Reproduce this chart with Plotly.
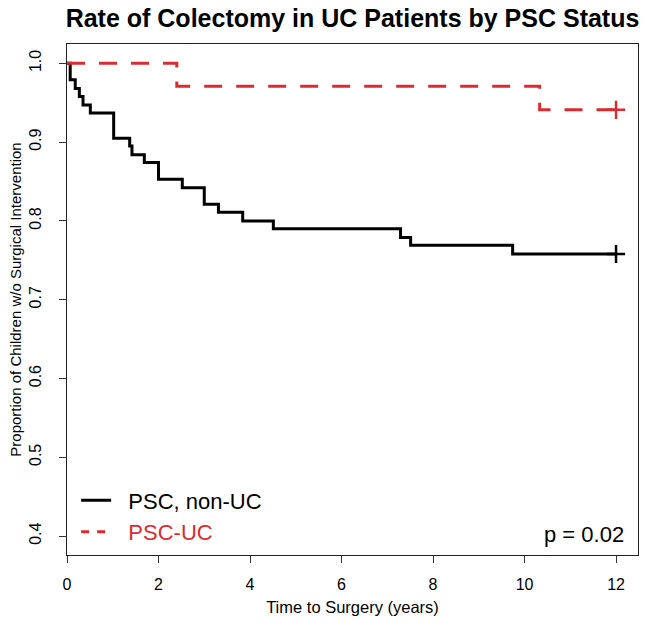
import plotly.graph_objects as go

# Kaplan-Meier estimates
psc_nonuc_time = [0, 0.07, 0.18, 0.27, 0.35, 0.51, 1.02, 1.37, 1.42, 1.69, 2.0,
                  2.52, 3.0, 3.31, 3.84, 4.51, 7.29, 7.51, 9.74, 12.0]
psc_nonuc_surv = [1.0, 0.979, 0.968, 0.958, 0.947, 0.937, 0.905, 0.895, 0.884,
                  0.874, 0.853, 0.842, 0.821, 0.811, 0.800, 0.790, 0.779, 0.769,
                  0.758, 0.758]

pscuc_time = [0, 2.40, 10.33, 12.0]
pscuc_surv = [1.0, 0.971, 0.941, 0.941]

# censoring marks at the end of follow-up
censor_time = [12.0]
nonuc_censor = [0.758]
uc_censor = [0.941]

x_ticks = [0, 2, 4, 6, 8, 10, 12]
y_ticks = [0.4, 0.5, 0.6, 0.7, 0.8, 0.9, 1.0]

RED = "#D92B30"
FONT = "Liberation Sans, Arial, sans-serif"
SP = "\u00a0\u00a0"

fig = go.Figure()

fig.add_trace(go.Scatter(x=psc_nonuc_time, y=psc_nonuc_surv, mode="lines",
                         line=dict(color="black", width=3, shape="hv"),
                         showlegend=False, hoverinfo="skip"))
fig.add_trace(go.Scatter(x=pscuc_time, y=pscuc_surv, mode="lines",
                         line=dict(color=RED, width=3, shape="hv", dash="18px,14px"),
                         showlegend=False, hoverinfo="skip"))
fig.add_trace(go.Scatter(x=censor_time, y=nonuc_censor, mode="markers",
                         marker=dict(symbol="cross-thin", size=13,
                                     line=dict(color="black", width=2.5)),
                         showlegend=False))
fig.add_trace(go.Scatter(x=censor_time, y=uc_censor, mode="markers",
                         marker=dict(symbol="cross-thin", size=13,
                                     line=dict(color=RED, width=2.5)),
                         showlegend=False))

# legend entries
fig.add_trace(go.Scatter(x=[None], y=[None], mode="lines",
                         line=dict(color="black", width=3),
                         name=SP + "PSC, non-UC", legendgroup="a"))
fig.add_trace(go.Scatter(x=[None], y=[None], mode="lines",
                         line=dict(color=RED, width=3, dash="8px,8px"),
                         name=SP + f"<span style='color:{RED}'>PSC-UC</span>", legendgroup="b"))

fig.add_annotation(text="p = 0.02", xref="paper", yref="paper", x=0.9785, y=0.04,
                   xanchor="right", yanchor="middle", showarrow=False,
                   font=dict(size=22, color="black", family=FONT))

fig.update_layout(
    width=645, height=627,
    margin=dict(l=67, r=7, t=44, b=72, autoexpand=False),
    paper_bgcolor="white", plot_bgcolor="white",
    font=dict(family=FONT, color="black"),
    title=dict(text="<b>Rate of Colectomy in UC Patients by PSC Status</b>",
               x=0.5, xref="paper", xanchor="center", y=0.971, yanchor="middle",
               font=dict(size=25, color="black", family=FONT)),
    legend=dict(x=0.016, y=0.003, xanchor="left", yanchor="bottom",
                bgcolor="rgba(0,0,0,0)", font=dict(size=22, family=FONT),
                tracegroupgap=0, itemwidth=30),
    xaxis=dict(range=[0, 12.48], tickvals=x_ticks, ticks="outside", ticklen=7,
               tickcolor="#333", showline=True, linecolor="#222", linewidth=1,
               mirror=True, showgrid=False, zeroline=False, automargin=False,
               tickfont=dict(size=16), ticklabelstandoff=8,
               title=dict(text="Time to Surgery (years)", font=dict(size=16.5), standoff=9)),
    yaxis=dict(range=[0.376, 1.0245], tickvals=y_ticks, tickformat=".1f",
               ticks="outside", ticklen=7, tickcolor="#333", tickangle=-90,
               showline=True, linecolor="#222", linewidth=1, mirror=True,
               showgrid=False, zeroline=False, tickfont=dict(size=16),
               ticklabelstandoff=12, automargin=False,
               title=dict(text="Proportion of Children w/o Surgical Intervention",
                          font=dict(size=15), standoff=1)),
)

# the page's default body margin would shift the figure by 8px
fig.write_html("out.html", config={"displayModeBar": False},
               post_script="document.body.style.margin='0';")
